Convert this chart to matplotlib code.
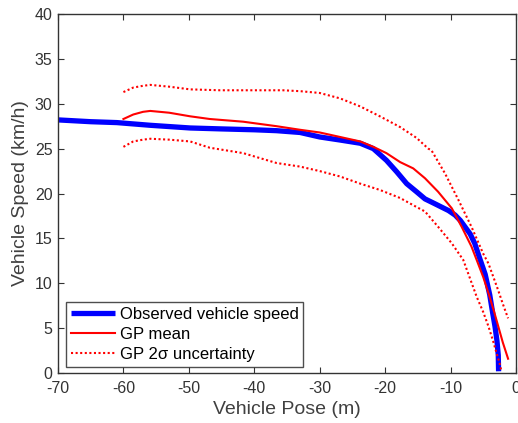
import matplotlib
matplotlib.use("Agg")
import matplotlib.pyplot as plt

# Observed vehicle speed
obs_x = [-70, -65, -61.0, -55.9, -49.8, -45.2, -40, -36.6, -33, -30.0, -26.9, -23.8, -21.8,
         -19.8, -18.2, -16.7, -15.2, -13.9, -12.5, -11.4, -10.3, -9.3, -8.5, -7.8, -7.0,
         -6.3, -5.5, -4.7, -4.0, -3.6, -3.2, -2.9, -2.7, -2.65]
obs_y = [28.2, 28.0, 27.9, 27.6, 27.3, 27.2, 27.1, 27.0, 26.8, 26.3, 25.96, 25.6, 25.0,
         23.7, 22.4, 21.1, 20.2, 19.4, 18.9, 18.5, 18.1, 17.6, 17.0, 16.3, 15.5,
         14.45, 12.7, 11.0, 8.7, 6.9, 5.2, 3.6, 2.0, 0.2]

# GP mean
mean_x = [-60.0, -58.5, -57, -55.9, -53, -49.8, -46.8, -41.7, -36.6, -33, -30.0, -26.9,
          -23.8, -21.8, -19.8, -17.7, -15.7, -13.9, -11.9, -9.8, -8.3, -6.8, -6.0, -5.0,
          -4.2, -3.4, -2.7, -2.0, -1.2]
mean_y = [28.3, 28.8, 29.1, 29.2, 29.0, 28.6, 28.3, 28.0, 27.5, 27.1, 26.8, 26.3,
          25.8, 25.2, 24.5, 23.5, 22.8, 21.7, 20.2, 18.35, 16.3, 14.1, 12.6, 10.7,
          8.9, 7.0, 5.2, 3.4, 1.6]

# GP 2-sigma upper bound
up_x = [-60.0, -58.5, -57, -55.9, -53, -49.8, -45.2, -40, -35.6, -33, -30.0, -26.9, -23.8,
        -20.8, -17.7, -15.2, -13.4, -12.9, -10.85, -8.8, -6.8, -5.0, -4.2, -3.4, -2.7,
        -2.0, -1.2]
up_y = [31.3, 31.8, 32.0, 32.1, 31.9, 31.6, 31.5, 31.5, 31.5, 31.4, 31.2, 30.6, 29.7,
        28.6, 27.4, 26.2, 25.0, 24.8, 22.25, 19.3, 16.3, 13.3, 12.2, 10.6, 9.2,
        7.7, 6.1]

# GP 2-sigma lower bound
lo_x = [-60.0, -58.5, -57, -55.9, -53, -49.8, -46.8, -41.7, -36.6, -33, -30.0, -26.9,
        -23.8, -20.8, -17.7, -15.2, -13.9, -11.9, -9.8, -8.05, -7.0, -6.0, -5.0, -4.2,
        -3.5, -2.95, -2.5, -2.2]
lo_y = [25.2, 25.8, 26.0, 26.1, 26.0, 25.8, 25.1, 24.5, 23.4, 23.0, 22.5, 21.9,
        21.1, 20.4, 19.5, 18.5, 18.0, 16.3, 14.45, 12.6, 10.5, 8.5, 6.8, 5.2,
        3.6, 2.2, 1.1, 0.15]

x_ticks = [-70, -60, -50, -40, -30, -20, -10, 0]
y_ticks = [0, 5, 10, 15, 20, 25, 30, 35, 40]

plt.rcParams['font.family'] = ['Liberation Sans', 'DejaVu Sans']
plt.rcParams['axes.unicode_minus'] = False

fig = plt.figure(figsize=(5.18, 4.23), dpi=100)
ax = fig.add_axes([0.112, 0.118, 0.884, 0.849])

ax.plot(obs_x, obs_y, color='#0000ff', lw=3.8, label='Observed vehicle speed',
        solid_capstyle='butt', solid_joinstyle='round')
ax.plot(mean_x, mean_y, color='#ff0000', lw=1.5, label='GP mean')
ax.plot(up_x, up_y, color='#ff0000', lw=1.5, ls=(0, (1, 1.2)), label='GP 2\u03c3 uncertainty')
ax.plot(lo_x, lo_y, color='#ff0000', lw=1.5, ls=(0, (1, 1.2)))

ax.set_xlim(-70, 0)
ax.set_ylim(0, 40)
ax.set_xticks(x_ticks)
ax.set_yticks(y_ticks)
ax.tick_params(axis='both', direction='in', top=True, right=True, length=4, labelsize=11.5,
               colors='#333333', labelcolor='#333333')
ax.tick_params(axis='x', pad=6)
ax.tick_params(axis='y', pad=4)
for s in ax.spines.values():
    s.set_color('#333333')
    s.set_linewidth(1.0)

ax.set_xlabel('Vehicle Pose (m)', fontsize=14, color='#404040', labelpad=3)
ax.set_ylabel('Vehicle Speed (km/h)', fontsize=14, color='#404040', labelpad=4)

leg = ax.legend(loc='lower left', bbox_to_anchor=(0.018, 0.018), fontsize=12, frameon=True,
                fancybox=False, edgecolor='#222222', handlelength=2.6, handletextpad=0.3,
                borderpad=0.3, labelspacing=0.28, borderaxespad=0)
leg.get_frame().set_linewidth(1.0)

fig.savefig('out.png', dpi=100)
